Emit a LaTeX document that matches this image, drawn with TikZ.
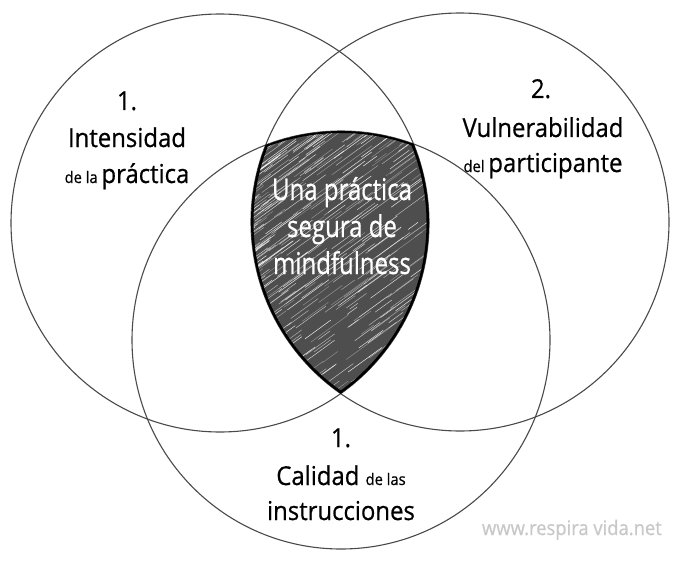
\documentclass[tikz,border=0pt]{standalone}
\usepackage{fontspec}
\setmainfont{Open Sans}[FakeStretch=0.92,FakeBold=0.6]
\newfontfamily\tallfont{Open Sans}[FakeStretch=0.8,FakeBold=0.6]
\definecolor{ringgray}{HTML}{4A4A4A}
\definecolor{shieldgray}{HTML}{4E4E4E}
\definecolor{markgray}{HTML}{C8C8C8}
\newcommand{\bigtxt}{\fontsize{26}{30}\selectfont}
\newcommand{\smalltxt}{\fontsize{16}{20}\selectfont}
\newcommand{\midtxt}{\tallfont\fontsize{30}{34}\selectfont}
\begin{document}
\begin{tikzpicture}[x=1pt,y=-1pt,
  ring/.style={draw=ringgray,line width=1.1pt},
  lbl/.style={anchor=base,inner sep=0pt,text=black},
  inlbl/.style={anchor=base,inner sep=0pt,text=white}]
\useasboundingbox (0,0) rectangle (676,564);
\fill[white] (0,0) rectangle (676,564);
\coordinate (cL) at (220,223);
\coordinate (cR) at (460,222);
\coordinate (cB) at (341,340);
% rings
\draw[ring] (cL) circle (209);
\draw[ring] (cR) circle (209);
\draw[ring] (cB) circle (209);
% shield: common part of the three rings
\begin{scope}
  \clip (cL) circle (209);
  \clip (cR) circle (209);
  \clip (cB) circle (209);
  \fill[shieldgray] (240,120) rectangle (440,400);
  \pgfmathsetseed{7}
  \foreach \i in {1,...,650}{
    \pgfmathsetmacro\xa{210+220*rnd^1.8}
    \pgfmathsetmacro\ya{120+290*rnd^1.5}
    \pgfmathsetmacro\len{10+45*rnd}
    \pgfmathsetmacro\op{0.3+0.6*rnd}
    \draw[white,line width=0.5pt,opacity=\op] (\xa,\ya) -- ++(-36:\len);
  }
  \draw[black,line width=5pt] (cL) circle (209);
  \draw[black,line width=5pt] (cR) circle (209);
  \draw[black,line width=4pt] (cB) circle (209);
\end{scope}
% labels
\node[lbl] (l1a) at (127,110) {\bigtxt 1.};
\node[lbl] (l1b) at (127,147) {\bigtxt Intensidad};
\node[lbl] (l1c) at (127,183) {\smalltxt de la \bigtxt práctica};
\node[lbl] (l2a) at (541,98) {\bigtxt 2.};
\node[lbl] (l2b) at (543,137) {\bigtxt Vulnerabilidad};
\node[lbl] (l2c) at (543,172) {\smalltxt del \bigtxt participante};
\node[lbl] (l3a) at (341,447) {\bigtxt 1.};
\node[lbl] (l3b) at (341,485) {\bigtxt Calidad \smalltxt de las};
\node[lbl] (l3c) at (341,520) {\bigtxt instrucciones};
\node[inlbl] (c1) at (342,200) {\midtxt Una práctica};
\node[inlbl] (c2) at (342,237) {\midtxt segura de};
\node[inlbl] (c3) at (342,274) {\midtxt mindfulness};
\node[anchor=base east,inner sep=0pt,text=markgray] (wm) at (662,535) {\fontsize{20}{24}\selectfont www.respira vida.net};
\end{tikzpicture}
\end{document}
